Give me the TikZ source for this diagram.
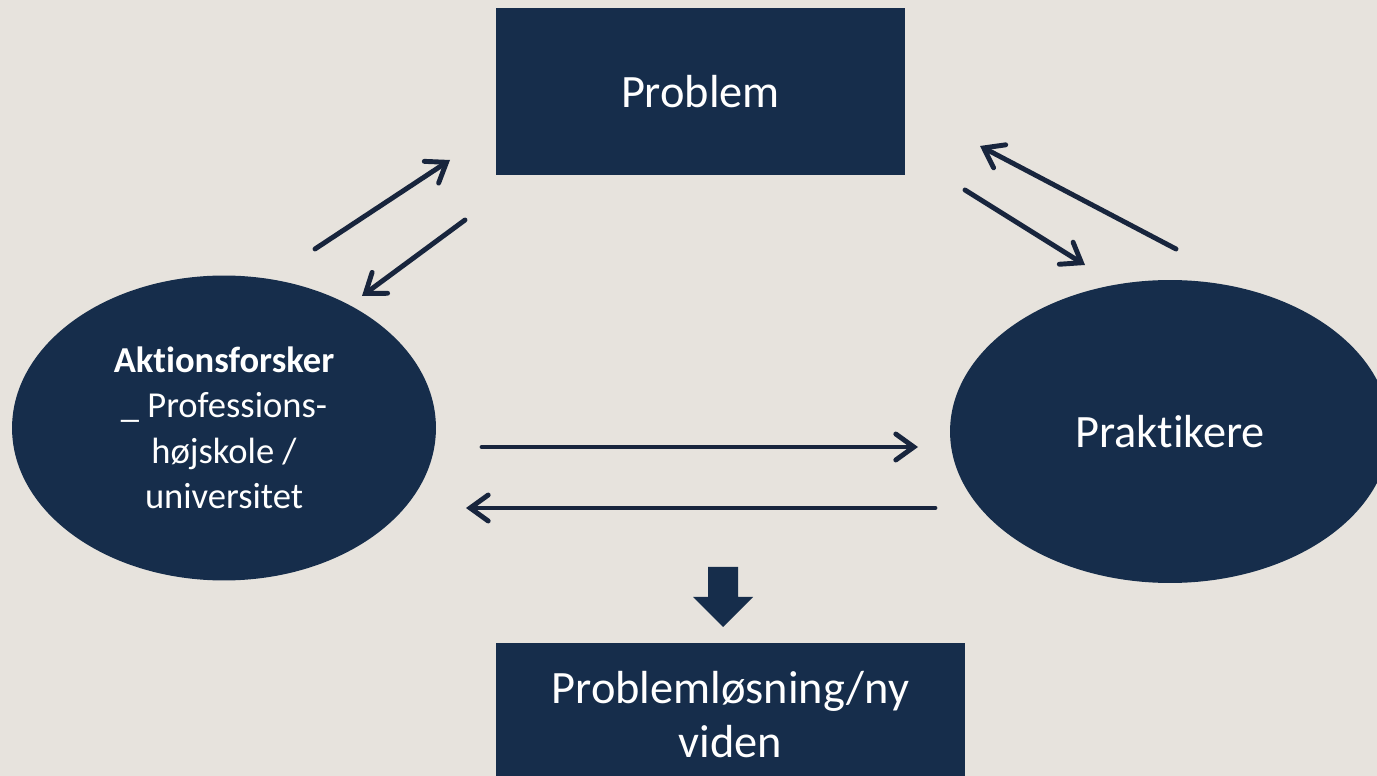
\documentclass[tikz,border=0pt]{standalone}
\usepackage{fontspec}
\setmainfont[Ligatures=NoCommon]{Carlito}
\usetikzlibrary{arrows.meta,shapes.geometric}
\definecolor{navy}{HTML}{162D4B}
\definecolor{ink}{HTML}{18253D}
\definecolor{paper}{HTML}{E7E3DD}
\tikzset{
  box/.style={rectangle,fill=navy,text=white,inner sep=0pt,align=center,
    font=\fontsize{26.4}{30.7}\selectfont},
  actor/.style={ellipse,fill=navy,text=white,inner sep=0pt,align=center,
    minimum width=8.48cm,minimum height=6.1cm}
}
\begin{document}
\begin{tikzpicture}[x=0.02cm,y=-0.02cm,>={Straight Barb[length=0.36cm,width=0.52cm,line cap=round]},
    line width=2.8pt,line cap=round]
  \clip (0,0) rectangle (1377,776);
  \fill[paper] (0,0) rectangle (1377,776);

  \node[box,minimum width=8.18cm,minimum height=3.34cm] (prob) at (700.5,91.5) {Problem};
  \node[box,minimum width=9.38cm,minimum height=2.88cm] (los) at (730.5,715) {Problemløsning/ny\\viden};
  \node[actor,font=\fontsize{20.8}{25.9}\selectfont] (akt) at (224,428)
    {\textbf{Aktionsforsker}\\\_ Professions-\\højskole /\\universitet};
  \node[actor,minimum width=8.8cm,minimum height=6.06cm,font=\fontsize{26.4}{30.7}\selectfont] (prak) at (1170,431.5) {Praktikere};

  \coordinate (a1) at (315,249);  \coordinate (b1) at (450,160);
  \coordinate (a2) at (465,220);  \coordinate (b2) at (362,296);
  \coordinate (a3) at (1176,249); \coordinate (b3) at (980,146);
  \coordinate (a4) at (965,190);  \coordinate (b4) at (1085,265);
  \coordinate (a5) at (482,447);  \coordinate (b5) at (918,447);
  \coordinate (a6) at (935,508);  \coordinate (b6) at (466,508);

  \path[->,ink]
     (a1) edge (b1)
     (a2) edge (b2)
     (a3) edge (b3)
     (a4) edge (b4)
     (a5) edge (b5)
     (a6) edge (b6);

  \fill[navy] (708,567) -- (738,567) -- (738,597) -- (753,597) -- (723,627)
    -- (693,597) -- (708,597) -- cycle;
\end{tikzpicture}
\end{document}
